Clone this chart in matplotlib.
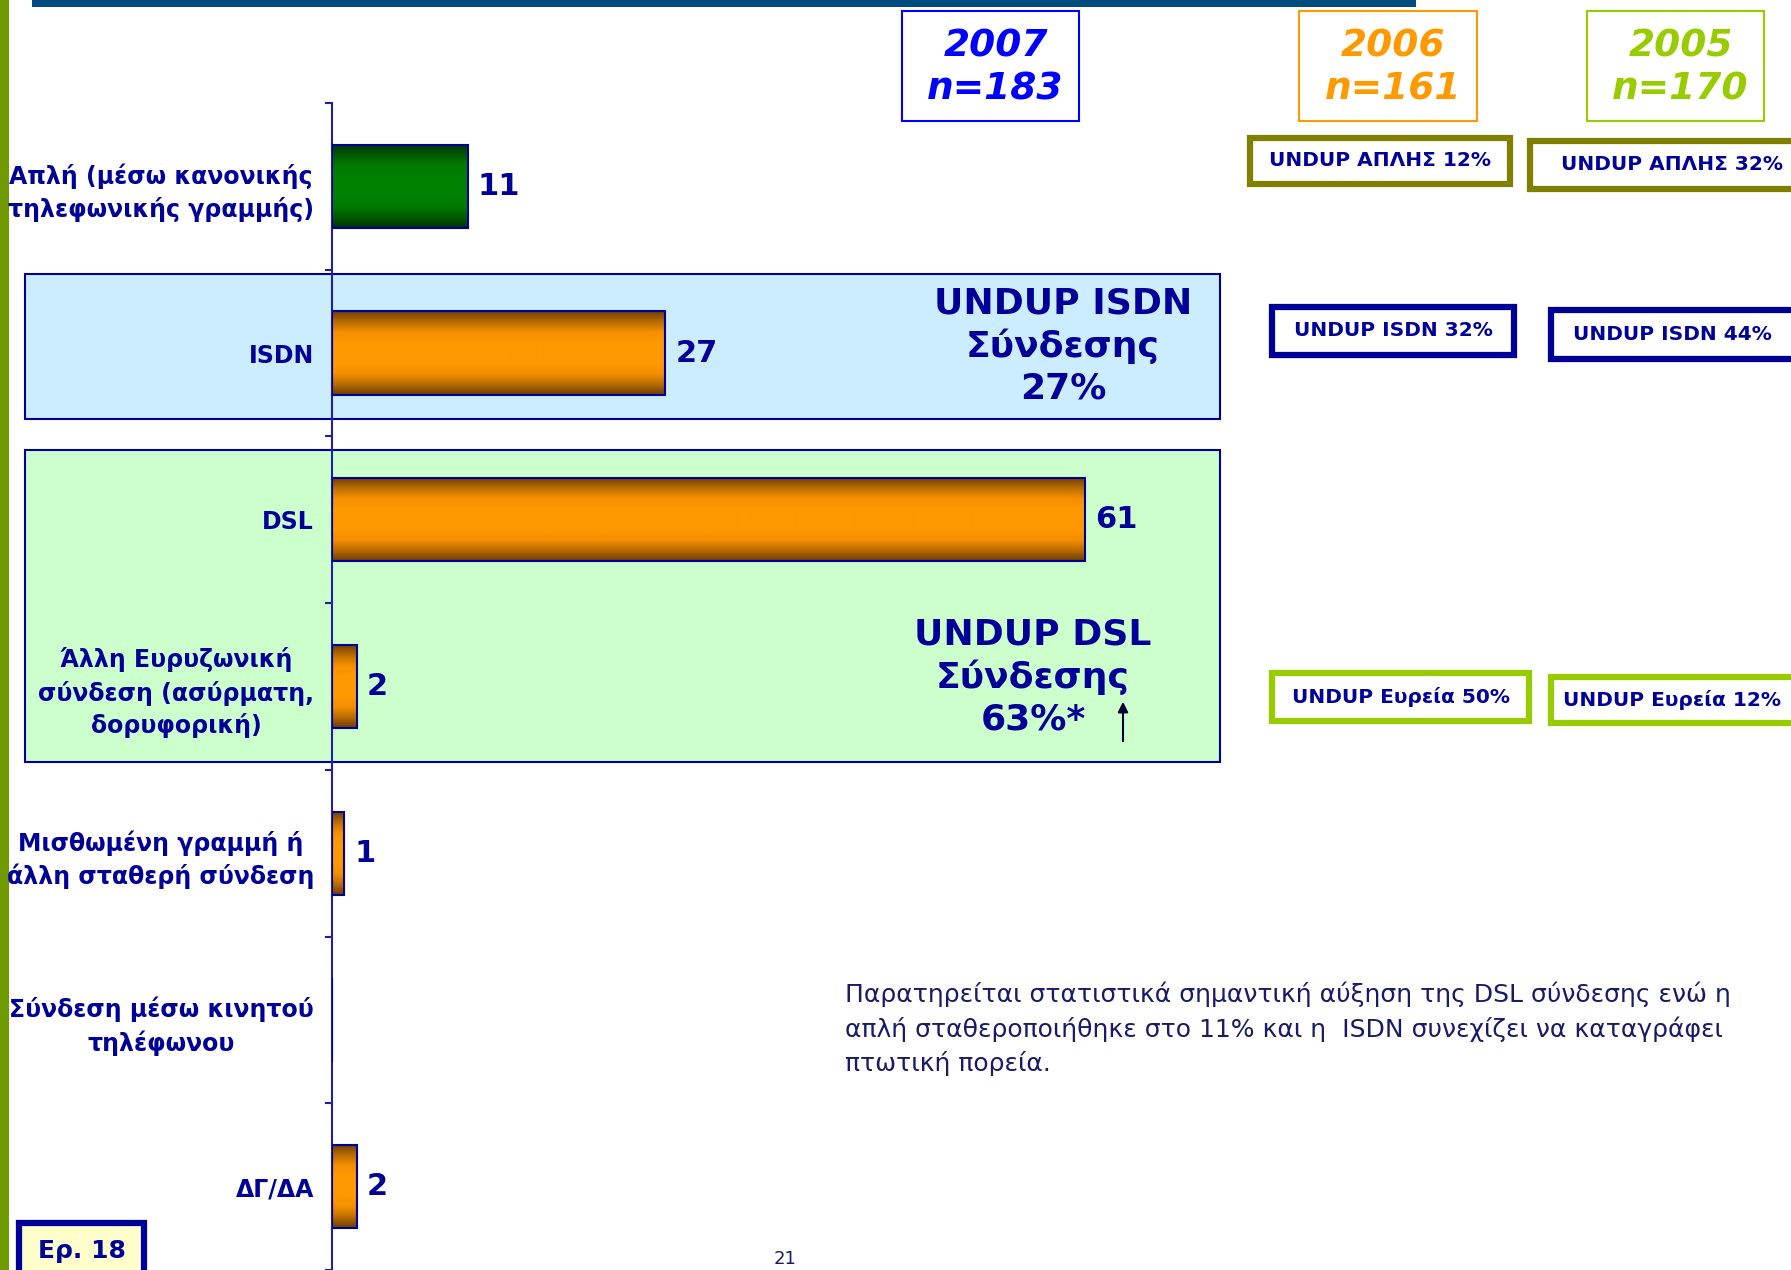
import numpy as np
import matplotlib
matplotlib.use('Agg')
import matplotlib.pyplot as plt
from matplotlib.patches import Rectangle, FancyArrowPatch
from matplotlib.colors import LinearSegmentedColormap

# ---------------- data ----------------
categories = ['Απλή (μέσω κανονικής\nτηλεφωνικής γραμμής)',
              'ISDN',
              'DSL',
              'Άλλη Ευρυζωνική\nσύνδεση (ασύρματη,\nδορυφορική)',
              'Μισθωμένη γραμμή ή\nάλλη σταθερή σύνδεση',
              'Σύνδεση μέσω κινητού\nτηλέφωνου',
              'ΔΓ/ΔΑ']
values = [11, 27, 61, 2, 1, 0, 2]
value_labels = ['11', '27', '61', '2', '1', '', '2']
bar_kinds = ['green', 'orange', 'orange', 'orange', 'orange', 'orange', 'orange']

years = ['2007', '2006', '2005']
sample_n = [183, 161, 170]
undup_2006 = ['UNDUP ΑΠΛΗΣ 12%', 'UNDUP ISDN 32%', 'UNDUP Ευρεία 50%']
undup_2005 = ['UNDUP ΑΠΛΗΣ 32%', 'UNDUP ISDN 44%', 'UNDUP Ευρεία 12%']
isdn_text = 'UNDUP ISDN\nΣύνδεσης\n27%'
dsl_text = 'UNDUP DSL\nΣύνδεσης\n63%*'
note_text = ('Παρατηρείται στατιστικά σημαντική αύξηση της DSL σύνδεσης ενώ η\n'
             'απλή σταθεροποιήθηκε στο 11% και η  ISDN συνεχίζει να καταγράφει\n'
             'πτωτική πορεία.')
question_label = 'Ερ. 18'
page_number = '21'

# ---------------- style ----------------
plt.rcParams['font.family'] = ['DejaVu Sans']
NAVY = '#000099'
W, H = 1791, 1270
fig = plt.figure(figsize=(W / 100, H / 100), dpi=100)


def fx(x):
    return x / W


def fy(y):
    return 1 - y / H


def frect(x0, y0, x1, y1, **kw):
    r = Rectangle((fx(x0), fy(y1)), (x1 - x0) / W, (y1 - y0) / H,
                  transform=fig.transFigure, **kw)
    fig.patches.append(r)
    return r


# decorative frame elements
frect(0, 0, 9, 1270, facecolor='#6F9A00', edgecolor='none', zorder=-2)
frect(32, 0, 1416, 7, facecolor='#004B7F', edgecolor='none', zorder=-2)

# shaded groups behind bars
frect(25, 274, 1220, 419, facecolor='#CCECFF', edgecolor=NAVY, lw=1.5, zorder=-1)
frect(25, 450, 1220, 762, facecolor='#CCFFCC', edgecolor=NAVY, lw=1.5, zorder=-1)

# ---------------- axes ----------------
ax_left, ax_top = 332, 103
px_per_unit = 12.35
xmax = 100
ax = fig.add_axes([fx(ax_left), 0, xmax * px_per_unit / W, fy(ax_top)])
ax.set_facecolor('none')

ypos = np.arange(len(categories))
bars = ax.barh(ypos, values, height=0.5, facecolor='none', edgecolor=NAVY,
               linewidth=1.5, zorder=3)

cmaps = {
    'orange': LinearSegmentedColormap.from_list('o', ['#6B3E00', '#B86A00', '#F29000', '#FF9900', '#FF9900']),
    'green': LinearSegmentedColormap.from_list('g', ['#003300', '#005A00', '#007A00', '#008000', '#008000']),
}
g = 1 - np.abs(np.linspace(-1, 1, 256))
grad = g.reshape(-1, 1)
for p, kind in zip(bars, bar_kinds):
    w = p.get_width()
    if w <= 0:
        continue
    x0, y0, h = p.get_x(), p.get_y(), p.get_height()
    ax.imshow(grad, extent=(x0, x0 + w, y0 + h, y0), aspect='auto',
              cmap=cmaps[kind], vmin=0, vmax=1, zorder=2, interpolation='bilinear')

for i, (v, lbl) in enumerate(zip(values, value_labels)):
    if lbl:
        ax.annotate(lbl, (v, i), xytext=(7, 0), textcoords='offset points',
                    va='center', ha='left', fontsize=22, fontweight='bold', color=NAVY)

ax.set_xlim(0, xmax)
ax.set_ylim(len(categories) - 0.5, -0.5)
for s in ['top', 'right', 'bottom']:
    ax.spines[s].set_visible(False)
ax.spines['left'].set_color('#2020A0')
ax.spines['left'].set_linewidth(1.5)
ax.set_xticks([])
ax.set_yticks(ypos)
ax.set_yticklabels(categories, fontsize=17, fontweight='bold', color=NAVY,
                   multialignment='center', linespacing=1.4)
ax.tick_params(axis='y', which='major', length=0, pad=13)
ax.set_yticks(np.arange(-0.5, len(categories), 1), minor=True)
ax.tick_params(axis='y', which='minor', length=5, width=1.5, color='#2020A0', direction='out')

# big group labels
fig.text(fx(1063), fy(346), isdn_text, ha='center', va='center', fontsize=26,
         fontweight='bold', color=NAVY, linespacing=1.28, multialignment='center')
fig.text(fx(1033), fy(677), dsl_text, ha='center', va='center', fontsize=26,
         fontweight='bold', color=NAVY, linespacing=1.28, multialignment='center')
fig.patches.append(FancyArrowPatch(
    (fx(1123), fy(744)), (fx(1123), fy(699)), transform=fig.transFigure,
    arrowstyle='-|>,head_length=6,head_width=3', color='#000033', lw=1.5))

# year boxes
year_boxes = [(902, 1079, '#0000FF'), (1299, 1477, '#FF9900'), (1587, 1764, '#99CC00')]
for (x0, x1, col), yr, n in zip(year_boxes, years, sample_n):
    frect(x0, 11, x1, 121, facecolor='white', edgecolor=col, lw=1.5, zorder=1)
    fig.text(fx((x0 + x1) / 2 + 5), fy(68), f'{yr}\nn={n}', ha='center', va='center',
             fontsize=27, fontweight='bold', style='italic', color=col,
             linespacing=1.22, zorder=2)

# UNDUP boxes
edge_cols = ['#808000', NAVY, '#99CC00']
box_2006 = [(1247, 135, 1513, 187), (1269, 304, 1517, 358), (1269, 670, 1532, 724)]
box_2005 = [(1527, 138, 1800, 192), (1548, 307, 1800, 362), (1548, 674, 1800, 726)]
for boxes, labels, xc in [(box_2006, undup_2006, None), (box_2005, undup_2005, 1672)]:
    for (x0, y0, x1, y1), lbl, ec in zip(boxes, labels, edge_cols):
        frect(x0 + 3, y0 + 3, x1 - 3, y1 - 3, facecolor='white', edgecolor=ec, lw=4.5, zorder=1)
        cx = (x0 + x1) / 2 if xc is None else xc
        fig.text(fx(cx), fy((y0 + y1) / 2), lbl, ha='center', va='center',
                 fontsize=14.5, fontweight='bold', color=NAVY, zorder=2)

# note
fig.text(fx(845), fy(1029), note_text, ha='left', va='center', fontsize=18,
         color='#1A1A66', linespacing=1.45)

# question box
frect(19, 1223, 144, 1285, facecolor='#FFFFCC', edgecolor=NAVY, lw=4.5, zorder=1)
fig.text(fx(82), fy(1251), question_label, ha='center', va='center', fontsize=18,
         fontweight='bold', color=NAVY, zorder=2)

fig.text(fx(785), fy(1268), page_number, ha='center', va='bottom', fontsize=13, color='#1A1A66')

fig.savefig('out.png', dpi=100)
